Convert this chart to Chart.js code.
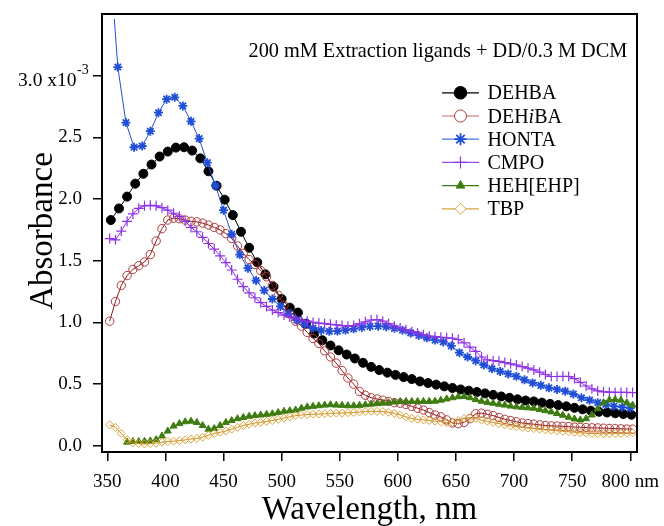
<!DOCTYPE html>
<html>
<head>
<meta charset="utf-8">
<script src="https://cdn.jsdelivr.net/npm/chart.js@4/dist/chart.umd.min.js"></script>
<style>
  html, body { margin: 0; padding: 0; background: #fff; }
  #wrap { width: 664px; height: 526px; position: relative; }
</style>
</head>
<body>
<div id="wrap"><canvas id="absChart"></canvas></div>
<script>
// Wavelength grids (nm)
const wl5 = [
  352,357,362,367,372,377,382,387,392,397,
  402,407,412,417,422,427,432,437,442,447,
  452,457,462,467,472,477,482,487,492,497,
  502,507,512,517,522,527,532,537,542,547,
  552,557,562,567,572,577,582,587,592,597,
  602,607,612,617,622,627,632,637,642,647,
  652,657,662,667,672,677,682,687,692,697,
  702,707,712,717,722,727,732,737,742,747,
  752,757,762,767,772,777,782,787,792,797,
  802
];
const wlDEHBA = [
  353,360,367,374,381,388,395,402,409,416,
  423,430,437,444,451,458,465,472,479,486,
  493,500,507,514,521,528,535,542,549,556,
  563,570,577,584,591,598,605,612,619,626,
  633,640,647,654,661,668,675,682,689,696,
  703,710,717,724,731,738,745,752,759,766,
  773,780,787,794,801
];
const wlHONTA = [
  356,
  359,366,373,380,387,394,401,408,415,422,
  429,436,443,450,457,464,471,478,485,492,
  499,506,513,520,527,534,541,548,555,562,
  569,576,583,590,597,604,611,618,625,632,
  639,646,653,660,667,674,681,688,695,702,
  709,716,723,730,737,744,751,758,765,772,
  779,786,793,800
];

// Absorbance (x10^-3)
const absDEHBA = [
  1.83,1.924,2.02,2.125,2.205,2.28,2.345,2.385,2.417,2.42,
  2.393,2.33,2.225,2.108,1.995,1.87,1.735,1.605,1.487,1.39,
  1.29,1.19,1.12,1.08,0.99,0.91,0.856,0.813,0.774,0.74,
  0.708,0.673,0.64,0.614,0.593,0.575,0.557,0.541,0.522,0.509,
  0.496,0.482,0.469,0.457,0.447,0.436,0.425,0.413,0.40,0.389,
  0.377,0.367,0.36,0.35,0.34,0.33,0.32,0.308,0.296,0.285,
  0.276,0.27,0.264,0.258,0.252
];
const absDEHiBA = [
  1.01,1.17,1.30,1.38,1.43,1.46,1.49,1.55,1.66,1.76,
  1.83,1.845,1.84,1.83,1.82,1.815,1.805,1.79,1.77,1.75,
  1.72,1.68,1.62,1.56,1.51,1.47,1.42,1.37,1.30,1.22,
  1.14,1.07,1.01,0.97,0.92,0.87,0.83,0.77,0.72,0.67,
  0.61,0.55,0.50,0.44,0.41,0.39,0.38,0.37,0.36,0.35,
  0.345,0.335,0.32,0.305,0.29,0.27,0.25,0.235,0.21,0.185,
  0.18,0.19,0.22,0.26,0.265,0.255,0.245,0.23,0.215,0.205,
  0.195,0.185,0.18,0.175,0.17,0.165,0.162,0.16,0.158,0.156,
  0.152,0.15,0.148,0.146,0.145,0.143,0.141,0.14,0.138,0.136,
  0.135
];
const absHONTA = [
  3.46,
  3.07,2.62,2.42,2.43,2.55,2.70,2.81,2.825,2.755,2.63,
  2.49,2.295,2.11,1.91,1.715,1.55,1.44,1.34,1.26,1.19,
  1.13,1.07,1.02,0.985,0.955,0.935,0.928,0.93,0.938,0.948,
  0.96,0.968,0.97,0.965,0.952,0.937,0.915,0.895,0.875,0.857,
  0.842,0.81,0.755,0.72,0.69,0.655,0.625,0.603,0.583,0.563,
  0.535,0.51,0.49,0.47,0.457,0.443,0.42,0.39,0.37,0.35,
  0.335,0.322,0.313,0.306
];
const absCMPO = [
  1.68,1.67,1.74,1.82,1.88,1.925,1.945,1.95,1.945,1.93,
  1.91,1.885,1.86,1.82,1.77,1.735,1.69,1.64,1.595,1.54,
  1.485,1.425,1.35,1.29,1.24,1.20,1.16,1.13,1.10,1.08,
  1.06,1.045,1.03,1.02,1.01,1.00,0.995,0.99,0.985,0.98,
  0.975,0.97,0.975,0.99,1.005,1.02,1.023,1.01,0.99,0.97,
  0.955,0.94,0.925,0.912,0.90,0.89,0.885,0.88,0.876,0.872,
  0.862,0.835,0.80,0.765,0.72,0.697,0.69,0.685,0.675,0.665,
  0.655,0.642,0.63,0.615,0.597,0.578,0.562,0.562,0.563,0.562,
  0.545,0.515,0.485,0.462,0.445,0.438,0.435,0.433,0.433,0.433,
  0.432
];
const absHEH = [
  null,null,null,0.03,0.035,0.035,0.037,0.04,0.05,0.08,
  0.12,0.16,0.18,0.195,0.2,0.19,0.165,0.135,0.14,0.165,
  0.19,0.205,0.22,0.23,0.24,0.245,0.25,0.255,0.26,0.27,
  0.28,0.285,0.29,0.305,0.315,0.32,0.325,0.33,0.333,0.33,
  0.328,0.325,0.325,0.328,0.333,0.338,0.342,0.346,0.35,0.355,
  0.36,0.36,0.36,0.36,0.36,0.36,0.362,0.37,0.38,0.39,
  0.398,0.4,0.39,0.375,0.362,0.352,0.345,0.337,0.33,0.322,
  0.316,0.312,0.308,0.305,0.295,0.285,0.275,0.262,0.248,0.232,
  0.218,0.21,0.22,0.25,0.3,0.35,0.372,0.375,0.37,0.35,
  0.33
];
const absTBP = [
  0.17,0.15,0.10,0.05,0.025,0.018,0.015,0.018,0.022,0.03,
  0.035,0.038,0.042,0.048,0.055,0.06,0.07,0.085,0.10,0.11,
  0.12,0.135,0.15,0.165,0.175,0.185,0.19,0.198,0.205,0.215,
  0.225,0.235,0.245,0.25,0.253,0.256,0.258,0.26,0.263,0.265,
  0.265,0.268,0.27,0.274,0.278,0.279,0.279,0.278,0.272,0.262,
  0.25,0.235,0.222,0.215,0.21,0.205,0.2,0.195,0.188,0.19,
  0.205,0.222,0.23,0.222,0.208,0.2,0.19,0.18,0.17,0.162,
  0.155,0.15,0.145,0.14,0.135,0.13,0.127,0.122,0.118,0.114,
  0.11,0.106,0.103,0.1,0.099,0.098,0.098,0.099,0.1,0.102,
  0.105
];

const xTicks = [350, 400, 450, 500, 550, 600, 650, 700, 750, 800];
const yTicks = [0, 0.5, 1.0, 1.5, 2.0, 2.5, 3.0];

const SERIF = '"Liberation Serif", "Times New Roman", serif';

// trace styles (legend order)
const traces = [
  { label: 'DEHBA',    x: wlDEHBA,  y: absDEHBA,  line: '#000000', legLine: '#000000', color: '#000000', fill: '#000000', style: 'circle',   r: 4.5, bw: 1,   legR: 6.3 },
  { label: 'DEHiBA',   x: wl5,      y: absDEHiBA, line: '#8e1a1a', legLine: '#c86868', color: '#ad3a3a', fill: 'rgba(0,0,0,0)', style: 'circle', r: 4.2, bw: 1, legR: 6 },
  { label: 'HONTA',    x: wlHONTA,  y: absHONTA,  line: '#2050d8', legLine: '#4a78d0', color: '#1f4fd6', fill: '#1f4fd6', style: 'star',     r: 4.5, bw: 1.8, legR: 6 },
  { label: 'CMPO',     x: wl5,      y: absCMPO,   line: '#8b2be0', legLine: '#9a4be0', color: '#8e32e6', fill: '#8e32e6', style: 'cross',    r: 5,   bw: 1.2, legR: 6 },
  { label: 'HEH[EHP]', x: wl5,      y: absHEH,    line: '#3e7c12', legLine: '#3e7c12', color: '#3e7c12', fill: '#3e7c12', style: 'triangle', r: 4,   bw: 1,   legR: 5 },
  { label: 'TBP',      x: wl5,      y: absTBP,    line: '#d08a20', legLine: '#d4a640', color: '#dba63a', fill: 'rgba(0,0,0,0)', style: 'rectRot', r: 4, bw: 1, legR: 5.5 }
];

// 📌 frame, titles, note and legend drawn on top
const decorPlugin = {
  id: 'decor',
  afterDraw(chart) {
    const c = chart.ctx, a = chart.chartArea;
    c.save();
    c.strokeStyle = '#000'; c.lineWidth = 2;
    c.strokeRect(a.left, a.top, a.right - a.left, a.bottom - a.top);

    c.fillStyle = '#000';
    // 3.0 x10^-3 label
    c.textAlign = 'right'; c.textBaseline = 'alphabetic';
    c.font = '19.5px ' + SERIF;
    c.fillText('3.0 x10', 76.5, 85.5);
    c.textAlign = 'left';
    c.font = '14px ' + SERIF;
    c.fillText('-3', 77, 74);

    // axis titles
    c.font = '33px ' + SERIF;
    c.textAlign = 'center';
    c.fillText('Wavelength, nm', (a.left + a.right) / 2, 519);
    c.save();
    c.translate(51.5, 231);
    c.rotate(-Math.PI / 2);
    c.fillText('Absorbance', 0, 0);
    c.restore();

    // note
    c.font = '20.3px ' + SERIF;
    c.textAlign = 'left';
    c.fillText('200 mM Extraction ligands + DD/0.3 M DCM', 248.5, 56.5);

    // legend
    traces.forEach((t, i) => {
      const base = 99.3 + i * 23.2, y = base - 6.5;
      c.strokeStyle = t.legLine; c.lineWidth = 1.2;
      c.beginPath(); c.moveTo(442, y); c.lineTo(479, y); c.stroke();
      c.strokeStyle = t.color;
      c.fillStyle = t.label === 'DEHiBA' || t.label === 'TBP' ? '#fff' : t.fill;
      c.lineWidth = t.bw;
      Chart.helpers.drawPoint(c, { pointStyle: t.style, radius: t.legR, rotation: 0, borderWidth: t.bw }, 460.5, y);
      c.fillStyle = '#000';
      c.font = '20px ' + SERIF;
      if (t.label === 'DEHiBA') {
        let x = 487.5;
        c.fillText('DEH', x, base); x += c.measureText('DEH').width;
        c.font = 'italic 20px ' + SERIF;
        c.fillText('i', x, base); x += c.measureText('i').width;
        c.font = '20px ' + SERIF;
        c.fillText('BA', x, base);
      } else {
        c.fillText(t.label, 487.5, base);
      }
    });
    c.restore();
  }
};

new Chart(document.getElementById('absChart'), {
  type: 'line',
  data: {
    datasets: traces.map((t, i) => ({
      label: t.label,
      data: t.x.map((w, k) => ({ x: w, y: t.y[k] })),
      borderColor: t.line,
      borderWidth: 1,
      pointStyle: t.style,
      pointRadius: t.x.map((w, k) => (t.label === 'HONTA' && k === 0) ? 0 : t.r),
      pointBorderColor: t.color,
      pointBackgroundColor: t.fill,
      pointBorderWidth: t.bw,
      tension: 0,
      spanGaps: false,
      order: 6 - i
    }))
  },
  options: {
    responsive: true,
    maintainAspectRatio: false,
    animation: false,
    layout: { padding: { top: 14, right: 27, left: 0, bottom: 0 } },
    plugins: { legend: { display: false }, tooltip: { enabled: false } },
    scales: {
      x: {
        type: 'linear', min: 345.4, max: 805.8,
        afterBuildTicks: s => { s.ticks = xTicks.map(v => ({ value: v })); },
        afterFit: s => { s.height = 74; s.paddingLeft = 0; s.paddingRight = 0; },
        grid: { display: true, drawOnChartArea: false, drawTicks: true, tickLength: 9, color: '#000', lineWidth: 1.5 },
        border: { display: true, color: '#000', width: 2 },
        ticks: { color: '#000', font: { family: SERIF, size: 19 }, padding: 10, maxRotation: 0, autoSkip: false,
                 callback: v => v === 800 ? '800 nm' : String(v) }
      },
      y: {
        type: 'linear', min: -0.05, max: 3.5,
        afterBuildTicks: s => { s.ticks = yTicks.map(v => ({ value: v })); },
        afterFit: s => { s.width = 102; s.paddingTop = 0; s.paddingBottom = 0; },
        grid: { display: true, drawOnChartArea: false, drawTicks: true, tickLength: 9, color: '#000', lineWidth: 1.5 },
        border: { display: true, color: '#000', width: 2 },
        ticks: { color: '#000', font: { family: SERIF, size: 19 }, padding: 11, autoSkip: false,
                 callback: v => v === 3 ? '' : v.toFixed(1) }
      }
    }
  },
  plugins: [decorPlugin]
});
</script>
</body>
</html>
